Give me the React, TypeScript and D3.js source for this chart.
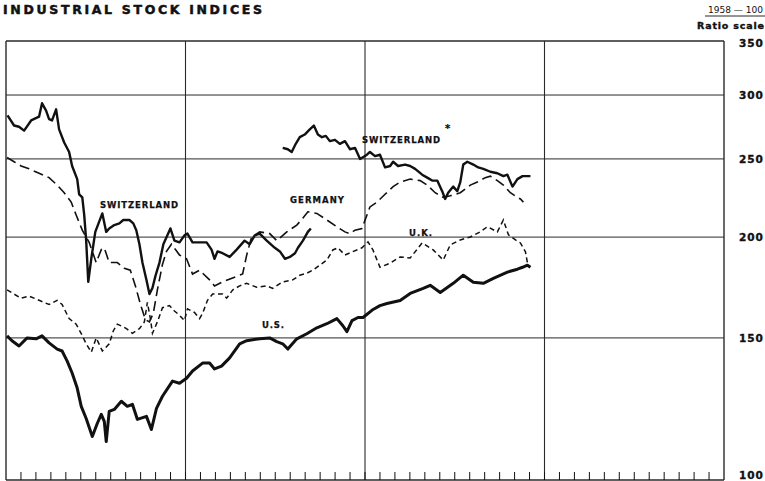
import React from 'react';
import * as d3 from 'd3';

const W = 765;
const H = 481;

const title = 'INDUSTRIAL STOCK INDICES';
const baseNote = '1958 — 100';
const scaleNote = 'Ratio scale';
const yTicks = [100, 150, 200, 250, 300, 350];
const yearGrid = [12, 24, 36];
const monthCount = 48;

type P = [number, number]; // [month index, index value]

const switzerlandOld: P[] = [
  [0.1, 283], [0.54, 275], [0.87, 274], [1.21, 271], [1.68, 279], [2.21, 282], [2.41, 293], [2.68, 287],
  [2.88, 280], [3.08, 279], [3.35, 288], [3.55, 272], [3.89, 262], [4.22, 255], [4.42, 245], [4.76, 236],
  [4.89, 226], [5.1, 224], [5.23, 213], [5.36, 198], [5.5, 176], [5.7, 188], [5.97, 203], [6.23, 209],
  [6.44, 214], [6.7, 203], [6.9, 205], [7.24, 207], [7.58, 208], [7.84, 210], [8.25, 210], [8.51, 208],
  [8.71, 204], [8.92, 196], [9.12, 186], [9.39, 177], [9.59, 170], [9.79, 173], [9.99, 179], [10.26, 186],
  [10.52, 196], [10.79, 201], [10.99, 205], [11.26, 198], [11.6, 197], [11.93, 201], [12.13, 202],
  [12.47, 197], [12.94, 197], [13.41, 197], [13.74, 193], [13.94, 188], [14.14, 192], [14.48, 191],
  [14.95, 189], [15.42, 193], [15.95, 198], [16.29, 196], [16.63, 201], [16.96, 202], [17.43, 198],
  [17.97, 194], [18.31, 192], [18.65, 188], [18.98, 189], [19.32, 191], [19.52, 194], [19.85, 198],
  [20.18, 203], [20.38, 205],
];

const switzerlandNew: P[] = [
  [18.5, 258], [18.84, 257], [19.1, 255], [19.37, 261], [19.64, 266], [19.97, 268], [20.31, 272],
  [20.58, 275], [20.85, 268], [21.12, 266], [21.38, 267], [21.65, 263], [21.99, 264], [22.32, 261],
  [22.66, 263], [22.99, 257], [23.33, 258], [23.67, 250], [24.13, 253], [24.33, 255], [24.67, 252],
  [25.0, 253], [25.34, 244], [25.68, 245], [25.88, 248], [26.21, 245], [26.68, 246], [27.02, 245],
  [27.35, 243], [27.82, 239], [28.16, 237], [28.49, 235], [28.83, 235], [29.16, 228], [29.36, 223],
  [29.56, 227], [29.9, 231], [30.17, 228], [30.37, 234], [30.57, 246], [30.84, 248], [31.24, 246],
  [31.57, 244], [31.91, 243], [32.38, 241], [32.85, 240], [33.25, 238], [33.52, 239], [33.86, 231],
  [34.19, 236], [34.53, 238], [35.06, 238],
];

const germany: P[] = [
  [0.07, 251], [0.54, 248], [1.01, 245], [1.54, 243], [2.21, 240], [2.88, 237], [3.42, 232], [3.89, 227],
  [4.36, 221], [4.69, 213], [5.1, 204], [5.56, 197], [5.77, 192], [6.03, 186], [6.37, 193], [6.57, 194],
  [6.9, 186], [7.44, 186], [7.91, 183], [8.31, 182], [8.65, 174], [8.99, 165], [9.32, 158], [9.59, 157],
  [9.85, 161], [10.12, 172], [10.46, 185], [10.73, 192], [11.06, 196], [11.33, 193], [11.6, 190],
  [12.07, 188], [12.47, 180], [12.94, 182], [13.61, 177], [13.94, 174], [14.48, 176], [15.15, 178],
  [15.82, 180], [16.09, 190], [16.42, 200], [16.96, 203], [17.63, 202], [18.1, 198], [18.77, 203],
  [19.44, 207], [19.84, 211], [20.18, 215], [20.78, 214], [21.45, 210], [22.12, 206], [22.66, 203],
  [22.99, 202], [23.33, 204], [23.8, 205], [24.33, 218], [24.8, 221], [25.34, 226], [25.88, 231],
  [26.35, 234], [27.02, 236], [27.69, 235], [28.16, 232], [28.69, 227], [29.23, 224], [29.7, 225],
  [30.37, 227], [31.04, 232], [31.51, 234], [32.04, 237], [32.38, 238], [32.85, 235], [33.25, 232],
  [33.72, 227], [34.19, 224], [34.39, 223], [34.59, 221],
];

const unitedKingdom: P[] = [
  [0.07, 172], [0.54, 170], [1.01, 168], [1.54, 169], [2.21, 167], [2.88, 165], [3.42, 167], [3.75, 165],
  [4.22, 158.5], [4.69, 156], [5.1, 151], [5.36, 147.5], [5.7, 144], [6.03, 150], [6.44, 144.5],
  [6.9, 147.5], [7.17, 153], [7.44, 156], [7.78, 155], [8.05, 154], [8.45, 152], [8.92, 154], [9.25, 157],
  [9.45, 166], [9.65, 158.5], [9.79, 152], [10.12, 157], [10.46, 163.5], [10.93, 164.5], [11.26, 162],
  [11.6, 160], [11.93, 157.6], [12.13, 163], [12.6, 161.3], [12.94, 158.5], [13.14, 160.8], [13.47, 167],
  [13.81, 170], [14.48, 170], [14.75, 168], [15.15, 172], [15.62, 174], [16.09, 175.3], [16.76, 173.3],
  [17.43, 174], [17.83, 172.8], [18.5, 176], [19.17, 177], [19.64, 179.4], [20.11, 180.4], [20.51, 182],
  [20.98, 184.6], [21.45, 187.3], [21.85, 192.8], [22.19, 194], [22.66, 190], [23.13, 191.7], [23.8, 194],
  [24.2, 197.3], [24.53, 192.8], [25.0, 183.5], [25.68, 185.7], [26.35, 189], [27.02, 188.4],
  [27.82, 196.7], [28.56, 192.8], [29.23, 187.3], [29.7, 195.6], [30.37, 198.4], [31.04, 200.1],
  [31.71, 203], [32.18, 206], [32.85, 203], [33.25, 210], [33.59, 201.3], [34.06, 198.4], [34.39, 196.7],
  [34.73, 191.7], [34.86, 185.7],
];

const unitedStates: P[] = [
  [0.07, 150.9], [0.4, 148.8], [0.87, 146.6], [1.41, 150], [2.01, 149.6], [2.41, 150.9], [2.88, 147.9],
  [3.42, 145.3], [3.75, 144.5], [4.09, 140.4], [4.42, 135.7], [4.76, 130], [5.03, 123.4], [5.36, 119.2],
  [5.77, 113.2], [6.1, 117.5], [6.37, 120.6], [6.57, 118.2], [6.7, 111.6], [6.9, 121.6], [7.24, 122.3],
  [7.71, 125.2], [8.11, 123.4], [8.45, 124.1], [8.78, 118.9], [9.39, 119.9], [9.72, 115.5], [10.06, 122.7],
  [10.46, 127], [11.13, 132.6], [11.6, 131.8], [12.07, 133.7], [12.47, 136.5], [13.14, 139.6],
  [13.61, 139.6], [13.94, 137.3], [14.41, 138.4], [14.95, 141.7], [15.62, 147.5], [16.09, 148.8],
  [16.49, 149.2], [16.96, 149.6], [17.63, 150], [18.1, 148.4], [18.5, 147.5], [18.84, 145.3],
  [19.44, 149.6], [20.11, 151.8], [20.78, 154.4], [21.45, 156.2], [22.12, 158.5], [22.52, 155.3],
  [22.79, 152.7], [23.13, 157.6], [23.53, 159], [23.87, 159], [24.54, 162.7], [25.0, 164.5],
  [25.47, 165.5], [26.35, 166.9], [27.02, 170.3], [27.89, 172.8], [28.36, 174.3], [29.03, 170.8],
  [29.9, 175.3], [30.57, 179.4], [31.24, 175.8], [31.91, 175.3], [32.58, 177.8], [33.52, 181],
  [34.19, 182.5], [34.53, 183.5], [34.86, 184.6], [35.06, 183.5],
];

const FONT = '"DejaVu Sans", "Liberation Sans", sans-serif';
const INK = '#111';

export default function App() {
  const x = d3.scaleLinear().domain([0, monthCount]).range([6, 724]);
  const y = d3.scaleLog().domain([100, 350]).range([480, 41]);
  const line = d3.line<P>().x((d) => x(d[0])).y((d) => y(d[1]));
  const months = d3.range(1, monthCount);

  const labelStyle = {
    fontFamily: FONT,
    fontWeight: 700,
    fontSize: 8.5,
    fill: INK,
    stroke: INK,
    strokeWidth: 0.25,
  } as const;

  return (
    <svg
      width={W}
      height={H}
      viewBox={`0 0 ${W} ${H}`}
      style={{ position: 'absolute', left: 0, top: 0, background: '#fff' }}
    >
      <rect x={0} y={0} width={W} height={H} fill="#fff" />

      {/* title */}
      <text
        x={3}
        y={14}
        fontFamily={FONT}
        fontWeight={700}
        fontSize={12.5}
        fill={INK}
        stroke={INK}
        strokeWidth={0.5}
        textLength={259}
        lengthAdjust="spacing"
      >
        {title}
      </text>

      {/* scale notes */}
      <text x={708} y={13} fontFamily={FONT} fontSize={8} fill={INK} textLength={55} lengthAdjust="spacingAndGlyphs">
        {baseNote}
      </text>
      <line x1={705} x2={765} y1={16} y2={16} stroke={INK} strokeWidth={0.9} />
      <text
        x={697}
        y={29}
        fontFamily={FONT}
        fontWeight={700}
        fontSize={9.5}
        fill={INK}
        stroke={INK}
        strokeWidth={0.35}
        textLength={67}
        lengthAdjust="spacing"
      >
        {scaleNote}
      </text>

      {/* horizontal grid & frame */}
      {yTicks.map((v) => (
        <line
          key={`h${v}`}
          x1={x(0)}
          x2={x(monthCount)}
          y1={y(v)}
          y2={y(v)}
          stroke="#2a2a2a"
          strokeWidth={v === 100 || v === 350 ? 1.3 : 1}
        />
      ))}
      {/* vertical grid & frame */}
      {[0, ...yearGrid, monthCount].map((m) => (
        <line
          key={`v${m}`}
          x1={x(m)}
          x2={x(m)}
          y1={y(350)}
          y2={y(100)}
          stroke="#2a2a2a"
          strokeWidth={m === 0 || m === monthCount ? 1.4 : 1.1}
        />
      ))}
      {/* month ticks */}
      {months.map((m) => (
        <line key={`t${m}`} x1={x(m)} x2={x(m)} y1={y(100) - 8} y2={y(100)} stroke={INK} strokeWidth={1} />
      ))}

      {/* y labels */}
      {yTicks.map((v) => (
        <text
          key={`yl${v}`}
          x={739}
          y={v === 350 ? y(v) + 6 : v === 100 ? y(v) - 1 : y(v) + 4}
          fontFamily={FONT}
          fontWeight={700}
          fontSize={10.5}
          fill={INK}
          stroke={INK}
          strokeWidth={0.35}
          letterSpacing={1}
        >
          {v}
        </text>
      ))}

      {/* series */}
      <path d={line(germany) ?? ''} fill="none" stroke={INK} strokeWidth={1.6} strokeDasharray="10,5" />
      <path d={line(unitedKingdom) ?? ''} fill="none" stroke={INK} strokeWidth={1.5} strokeDasharray="5,3.5" />
      <path d={line(switzerlandOld) ?? ''} fill="none" stroke={INK} strokeWidth={2.4} strokeLinejoin="round" />
      <path d={line(switzerlandNew) ?? ''} fill="none" stroke={INK} strokeWidth={2.4} strokeLinejoin="round" />
      <path d={line(unitedStates) ?? ''} fill="none" stroke={INK} strokeWidth={3} strokeLinejoin="round" />

      {/* series labels */}
      <text x={100} y={207.5} {...labelStyle} textLength={78} lengthAdjust="spacing">SWITZERLAND</text>
      <text x={290} y={202.5} {...labelStyle} textLength={54} lengthAdjust="spacing">GERMANY</text>
      <text x={362} y={142.5} {...labelStyle} textLength={78} lengthAdjust="spacing">SWITZERLAND</text>
      <text x={445} y={132} {...labelStyle} fontSize={10}>*</text>
      <text x={409} y={235.5} {...labelStyle} textLength={23} lengthAdjust="spacing">U.K.</text>
      <text x={262} y={327.5} {...labelStyle} textLength={22} lengthAdjust="spacing">U.S.</text>
    </svg>
  );
}
